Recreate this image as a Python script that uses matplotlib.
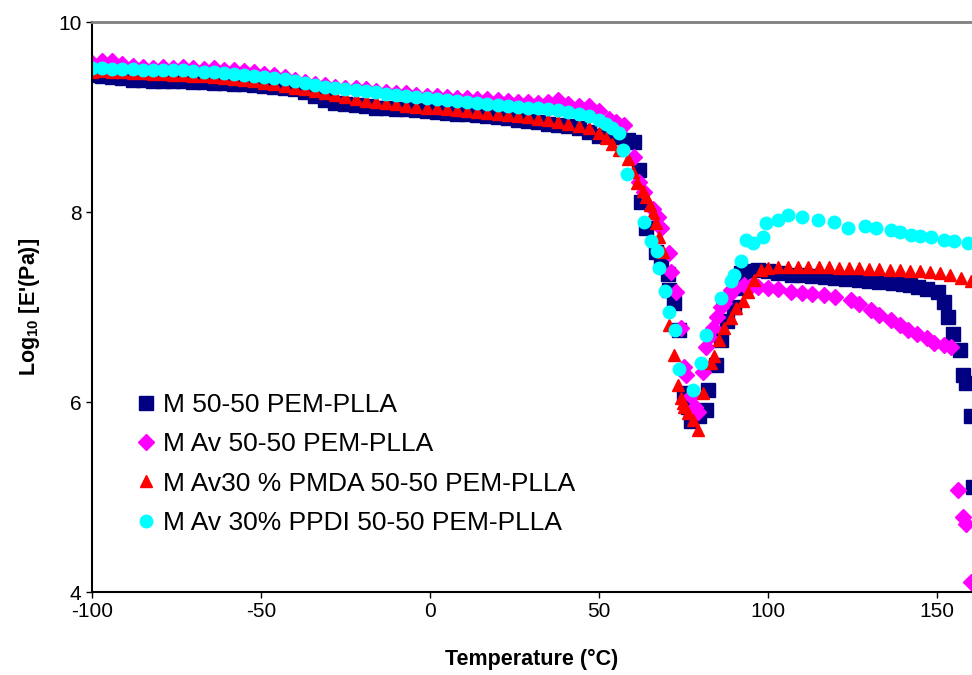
import matplotlib
matplotlib.use("Agg")
import matplotlib.pyplot as plt

plt.rcParams['font.family'] = ['Liberation Sans', 'DejaVu Sans']
plt.rcParams['axes.unicode_minus'] = False
plt.rcParams['mathtext.fontset'] = 'custom'
plt.rcParams['mathtext.bf'] = 'Liberation Sans:bold'
plt.rcParams['mathtext.rm'] = 'Liberation Sans:bold'

# M 50-50 PEM-PLLA (navy squares)
t_m = [-100, -97, -94, -91, -88, -85, -82, -79, -76, -73, -70, -67, -64, -61, -58, -55, -52, -49, -46, -43,
       -40, -37, -34, -31, -28, -25, -22, -19, -16, -13, -10, -7, -4, -1, 2, 5, 8, 11, 14, 17,
       20, 23, 26, 29, 32, 35, 38, 41, 44, 47, 50, 53, 56, 58.5, 60.3, 61.8, 62.4, 63.9, 66.9, 68.5,
       70.3, 70.8, 72.3, 73.8, 75.3, 76.3, 77.3, 79.5, 81.7, 82.2, 84.6, 86.1, 88, 90, 91, 92.1,
       94, 97, 100, 103, 107, 110, 113, 117, 120, 123, 127, 130, 133, 137, 140, 142, 144.4, 147,
       150.3, 152, 153.3, 154.8, 156.8, 157.8, 158.5, 160.2, 160.7]
e_m = [9.44, 9.43, 9.42, 9.41, 9.39, 9.39, 9.38, 9.38, 9.38, 9.38, 9.37, 9.37, 9.36, 9.36, 9.35, 9.35, 9.34, 9.33, 9.32, 9.31,
       9.29, 9.26, 9.22, 9.18, 9.15, 9.14, 9.13, 9.12, 9.10, 9.09, 9.08, 9.08, 9.07, 9.06, 9.05, 9.04, 9.03, 9.03, 9.02, 9.01,
       9.00, 8.99, 8.97, 8.96, 8.95, 8.93, 8.92, 8.91, 8.88, 8.84, 8.80, 8.82, 8.79, 8.76, 8.74, 8.44, 8.11, 7.83, 7.58, 7.45,
       7.35, 7.18, 7.04, 6.76, 6.09, 5.95, 5.80, 5.85, 5.92, 6.13, 6.39, 6.65, 6.85, 7.00, 7.20, 7.36,
       7.38, 7.39, 7.38, 7.36, 7.34, 7.34, 7.33, 7.32, 7.31, 7.30, 7.28, 7.27, 7.26, 7.25, 7.24, 7.23, 7.21, 7.19,
       7.16, 7.05, 6.90, 6.72, 6.55, 6.28, 6.20, 5.85, 5.11]

# M Av 50-50 PEM-PLLA (magenta diamonds)
t_av = [-100, -97, -94, -91, -88, -85, -82, -79, -76, -73, -70, -67, -64, -61, -58, -55, -52, -49, -46, -43,
        -40, -37, -34, -31, -28, -25, -22, -19, -16, -13, -10, -7, -4, -1, 2, 5, 8, 11, 14, 17,
        20, 23, 26, 29, 32, 35, 38, 41, 44, 47, 50, 53, 55, 57.4, 60.3, 61.8, 63.3, 66, 67.4, 68.3,
        70.7, 71.3, 72.8, 74.3, 75.2, 75.8, 77.3, 78.5, 79.2, 80.7, 81.7, 82.7, 83.7, 85, 86.1, 87,
        88.5, 89.1, 90.6, 92.9, 95, 97, 100, 103, 106.9, 110, 113, 116.7, 120, 124.7, 127, 130.6,
        133, 136.5, 139, 141.5, 144, 147, 149.3, 152, 154.3, 156.2, 157.7, 158.7, 160.2]
e_av = [9.57, 9.59, 9.59, 9.56, 9.54, 9.53, 9.52, 9.53, 9.52, 9.53, 9.52, 9.51, 9.52, 9.50, 9.49, 9.48, 9.47, 9.45, 9.44, 9.42,
        9.39, 9.37, 9.35, 9.34, 9.32, 9.31, 9.30, 9.29, 9.27, 9.26, 9.25, 9.25, 9.23, 9.22, 9.22, 9.21, 9.20, 9.20, 9.19, 9.19,
        9.18, 9.17, 9.16, 9.16, 9.15, 9.16, 9.18, 9.14, 9.12, 9.12, 9.06, 8.98, 8.95, 8.92, 8.58, 8.32, 8.21, 8.03, 7.95, 7.83,
        7.57, 7.37, 7.16, 6.78, 6.37, 6.28, 6.06, 5.95, 5.90, 6.32, 6.58, 6.68, 6.78, 6.90, 7.00, 7.04,
        7.13, 7.18, 7.21, 7.23, 7.22, 7.21, 7.20, 7.19, 7.16, 7.15, 7.14, 7.13, 7.11, 7.07, 7.03, 6.97,
        6.92, 6.86, 6.81, 6.76, 6.72, 6.67, 6.62, 6.60, 6.58, 5.07, 4.79, 4.72, 4.11]

# M Av30 % PMDA 50-50 PEM-PLLA (red triangles)
t_pmda = [-100, -97, -94, -91, -88, -85, -82, -79, -76, -73, -70, -67, -64, -61, -58, -55, -52, -49, -46, -43,
          -40, -37, -34, -31, -28, -25, -22, -19, -16, -13, -10, -7, -4, -1, 2, 5, 8, 11, 14, 17,
          20, 23, 26, 29, 32, 35, 38, 41, 44, 47, 50, 52, 54, 56, 58.5, 60, 61.4, 63, 63.9, 65,
          65.9, 66.9, 67.9, 68.9, 70.8, 72.3, 73.3, 74.3, 74.8, 75.2, 76.3, 77.7, 79.2, 80.9, 83.2, 84.1,
          85.5, 87, 89.1, 90.6, 92.6, 94, 96, 98, 100, 103, 106, 109, 112, 115, 118, 121,
          124, 127, 130, 133, 136, 139, 142, 145, 148, 151, 154, 157, 160]
e_pmda = [9.47, 9.48, 9.47, 9.47, 9.46, 9.46, 9.45, 9.45, 9.44, 9.44, 9.43, 9.43, 9.42, 9.41, 9.40, 9.39, 9.38, 9.36, 9.35, 9.33,
          9.31, 9.29, 9.27, 9.25, 9.23, 9.21, 9.19, 9.17, 9.16, 9.15, 9.14, 9.12, 9.11, 9.10, 9.09, 9.08, 9.07, 9.06, 9.05, 9.04,
          9.03, 9.02, 9.01, 9.00, 8.98, 8.97, 8.95, 8.93, 8.91, 8.88, 8.83, 8.78, 8.72, 8.65, 8.56, 8.42, 8.30, 8.22, 8.16, 8.07,
          7.99, 7.88, 7.74, 7.58, 6.81, 6.49, 6.18, 6.04, 5.99, 5.95, 5.88, 5.81, 5.71, 6.09, 6.41, 6.48,
          6.65, 6.78, 6.88, 6.99, 7.06, 7.16, 7.28, 7.39, 7.41, 7.42, 7.42, 7.42, 7.42, 7.42, 7.42, 7.41,
          7.41, 7.41, 7.40, 7.40, 7.39, 7.39, 7.38, 7.38, 7.37, 7.36, 7.34, 7.31, 7.27]

# M Av 30% PPDI 50-50 PEM-PLLA (cyan circles)
t_ppdi = [-100, -97, -94, -91, -88, -85, -82, -79, -76, -73, -70, -67, -64, -61, -58, -55, -52, -49, -46, -43,
          -40, -37, -34, -31, -28, -25, -22, -19, -16, -13, -10, -7, -4, -1, 2, 5, 8, 11, 14, 17,
          20, 23, 26, 29, 32, 35, 38, 41, 44, 47, 50, 52, 54, 56, 57, 58.4, 63.4, 65.4, 67.1, 67.9,
          69.6, 70.6, 72.6, 73.8, 77.7, 80.2, 81.8, 86.1, 89.1, 90, 92.1, 93.5, 95.5, 98.5, 99.5, 102.9,
          105.9, 110, 114.8, 119.7, 123.7, 128.6, 132, 136.5, 139, 142.4, 145, 148.4, 152, 155.2, 159.3]
e_ppdi = [9.52, 9.52, 9.51, 9.51, 9.51, 9.50, 9.50, 9.50, 9.49, 9.49, 9.48, 9.47, 9.47, 9.46, 9.45, 9.44, 9.43, 9.42, 9.41, 9.40,
          9.38, 9.36, 9.34, 9.32, 9.31, 9.29, 9.28, 9.27, 9.26, 9.24, 9.23, 9.22, 9.21, 9.20, 9.19, 9.18, 9.17, 9.16, 9.15, 9.14,
          9.13, 9.12, 9.11, 9.10, 9.09, 9.08, 9.07, 9.05, 9.03, 9.01, 8.97, 8.93, 8.88, 8.83, 8.65, 8.40, 7.90, 7.69, 7.59, 7.41,
          7.17, 6.95, 6.76, 6.35, 6.13, 6.41, 6.71, 7.09, 7.27, 7.34, 7.48, 7.71, 7.67, 7.74, 7.88, 7.92,
          7.97, 7.95, 7.92, 7.90, 7.83, 7.85, 7.83, 7.81, 7.79, 7.76, 7.75, 7.74, 7.71, 7.69, 7.67]

fig = plt.figure(figsize=(9.72, 6.75), dpi=100)
ax = fig.add_axes([92 / 972, 83 / 675, 880 / 972, 570 / 675])

ax.plot(t_m, e_m, ls='none', marker='s', ms=10, color='#000080', label='M 50-50 PEM-PLLA')
ax.plot(t_av, e_av, ls='none', marker='D', ms=8, color='#FF00FF', label='M Av 50-50 PEM-PLLA')
ax.plot(t_pmda, e_pmda, ls='none', marker='^', ms=8, color='#FF0000', label='M Av30 % PMDA 50-50 PEM-PLLA')
ax.plot(t_ppdi, e_ppdi, ls='none', marker='o', ms=9, color='#00FFFF', label='M Av 30% PPDI 50-50 PEM-PLLA')

ax.set_xlim(-100, 160.4)
ax.set_ylim(4, 10)
ax.set_xticks([-100, -50, 0, 50, 100, 150])
ax.set_yticks([4, 6, 8, 10])
ax.tick_params(labelsize=15, length=4, width=1, direction='out', colors='black')

ax.spines['right'].set_visible(False)
ax.spines['top'].set_color('#808080')
ax.spines['top'].set_linewidth(2)
ax.spines['left'].set_linewidth(1.5)
ax.spines['bottom'].set_linewidth(1.5)

ax.set_xlabel('Temperature (°C)', fontsize=15.5, fontweight='bold', labelpad=20)
ax.set_ylabel(r"Log$_{\mathbf{10}}$ [E'(Pa)]", fontsize=15.5, fontweight='bold', labelpad=12)

ax.legend(loc='upper left', bbox_to_anchor=(45 / 880, (592 - 393) / 570), frameon=False,
          fontsize=19, handlelength=0.7, handletextpad=0.3, labelspacing=0.58,
          borderaxespad=0, borderpad=0)

fig.savefig('out.png', dpi=100)
